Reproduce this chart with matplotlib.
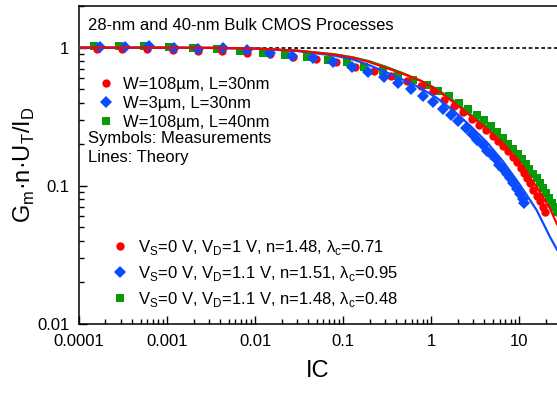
import matplotlib
matplotlib.use("Agg")
import matplotlib.pyplot as plt
from matplotlib.lines import Line2D
from matplotlib.ticker import LogLocator, FuncFormatter, NullFormatter

plt.rcParams['font.family'] = ['Liberation Sans', 'DejaVu Sans']

RED = "#ff0000"
BLUE = "#0a4cff"
GREEN = "#089a08"

ic_red_meas = [1.59e-4, 3.05e-4, 5.97e-4, 1.16e-3, 2.23e-3, 4.25e-3, 8.05e-3, 0.0148,
               0.0268, 0.049, 0.0826, 0.137, 0.225, 0.348, 0.53, 0.764, 1.06, 1.41,
               1.82, 2.31, 2.90, 3.54, 4.22, 5.02, 5.82, 6.64, 7.56, 8.5, 9.4, 10.4,
               11.4, 12.4, 13.3, 14.5, 15.9, 17.3, 18.6, 19.7]
g_red_meas = [0.978, 0.978, 0.978, 0.962, 0.951, 0.940, 0.920, 0.901,
              0.861, 0.823, 0.783, 0.729, 0.674, 0.625, 0.578, 0.529, 0.486, 0.419,
              0.375, 0.340, 0.306, 0.277, 0.252, 0.228, 0.210, 0.193, 0.178, 0.162,
              0.148, 0.135, 0.123, 0.113, 0.104, 0.094, 0.085, 0.077, 0.070, 0.065]

ic_blue_meas = [1.73e-4, 3.34e-4, 6.24e-4, 1.21e-3, 2.27e-3, 4.30e-3, 8.05e-3, 0.0148,
                0.0261, 0.0459, 0.0776, 0.126, 0.191, 0.292, 0.425, 0.592, 0.805, 1.06,
                1.36, 1.67, 2.04, 2.50, 2.90, 3.36, 3.87, 4.37, 4.90, 5.48, 5.98, 6.64,
                7.25, 7.91, 8.62, 9.42, 10.3, 11.0, 11.4]
g_blue_meas = [1.005, 1.005, 1.02, 0.995, 0.979, 0.988, 0.962, 0.916,
               0.875, 0.843, 0.783, 0.729, 0.663, 0.610, 0.553, 0.503, 0.450, 0.403,
               0.361, 0.323, 0.292, 0.261, 0.238, 0.216, 0.196, 0.180, 0.166, 0.155,
               0.142, 0.133, 0.122, 0.113, 0.104, 0.0955, 0.0878, 0.0809, 0.0751]

ic_green_meas = [1.48e-4, 2.87e-4, 5.48e-4, 1.05e-3, 1.99e-3, 3.67e-3, 6.76e-3, 0.0122,
                 0.0219, 0.0393, 0.0681, 0.110, 0.173, 0.287, 0.425, 0.619, 0.893, 1.21,
                 1.61, 2.10, 2.66, 3.30, 4.00, 4.77, 5.58, 6.53, 7.56, 8.61, 9.66, 10.7,
                 11.9, 13.1, 14.5, 15.9, 17.3, 18.6, 20.3, 22.1, 23.5, 25.2, 27.0]
g_green_meas = [1.022, 1.022, 1.022, 1.005, 0.995, 0.979, 0.940, 0.910,
                0.886, 0.851, 0.815, 0.783, 0.721, 0.674, 0.628, 0.585, 0.532, 0.484,
                0.443, 0.396, 0.361, 0.327, 0.297, 0.269, 0.245, 0.223, 0.202, 0.186,
                0.171, 0.157, 0.145, 0.133, 0.122, 0.114, 0.105, 0.0964, 0.0887, 0.0817,
                0.0751, 0.0703, 0.0647]

# theory curves
ic_theory = [1e-4, 1e-3, 3e-3, 0.01, 0.03, 0.08, 0.13, 0.2, 0.31, 0.48, 0.75, 1.16,
             1.79, 2.77, 4.3, 6.64, 10.3, 15.9, 22.5, 27]
g_red_theory = [1.0, 0.999, 0.996, 0.985, 0.95, 0.89, 0.845, 0.785, 0.713, 0.646, 0.578,
                0.495, 0.403, 0.323, 0.259, 0.201, 0.144, 0.098, 0.0684, 0.0527]
g_blue_theory = [1.0, 0.999, 0.995, 0.983, 0.945, 0.875, 0.82, 0.745, 0.663, 0.585,
                 0.512, 0.433, 0.351, 0.273, 0.207, 0.149, 0.101, 0.0665, 0.0426, 0.0345]
g_green_theory = [1.0, 0.999, 0.996, 0.986, 0.952, 0.895, 0.85, 0.796, 0.725, 0.652,
                  0.58, 0.503, 0.415, 0.332, 0.27, 0.213, 0.157, 0.110, 0.0748, 0.0612]

fig = plt.figure(figsize=(5.57, 3.94), dpi=100)
ax = fig.add_axes([79 / 557, 1 - 324 / 394, 478 / 557, 318 / 394])

ax.axhline(1.0, color="black", lw=1.2, ls=(0, (2.2, 1.6)), zorder=1)

ax.plot(ic_green_meas, g_green_meas, ls="none", marker="s", ms=5.3, color=GREEN, mew=0, zorder=3)
ax.plot(ic_red_meas, g_red_meas, ls="none", marker="o", ms=6.0, color=RED, mew=0, zorder=3)
ax.plot(ic_blue_meas, g_blue_meas, ls="none", marker="D", ms=5.8, color=BLUE, mew=0, zorder=3)

ax.plot(ic_theory, g_green_theory, color=GREEN, lw=1.6, zorder=4)
ax.plot(ic_theory, g_blue_theory, color=BLUE, lw=1.6, zorder=4)
ax.plot(ic_theory, g_red_theory, color=RED, lw=1.6, zorder=4)

ax.set_xscale("log")
ax.set_yscale("log")
ax.set_xlim(1e-4, 27)
ax.set_ylim(0.01, 2.0)

fmt = FuncFormatter(lambda v, p: "{:g}".format(v))
ax.xaxis.set_major_locator(LogLocator(base=10, numticks=12))
ax.yaxis.set_major_locator(LogLocator(base=10, numticks=12))
ax.xaxis.set_major_formatter(fmt)
ax.yaxis.set_major_formatter(fmt)
ax.xaxis.set_minor_formatter(NullFormatter())
ax.yaxis.set_minor_formatter(NullFormatter())
ax.tick_params(which="both", direction="in", top=False, right=False, width=1.0, labelsize=12)
ax.tick_params(which="major", length=5.8)
ax.tick_params(which="minor", length=3.6)
ax.tick_params(axis="x", pad=7)
ax.tick_params(axis="y", pad=7)

for side in ["left", "bottom", "top"]:
    ax.spines[side].set_linewidth(1.1)
ax.spines["right"].set_visible(False)

ax.set_xlabel("IC", fontsize=17)
ax.xaxis.set_label_coords(0.5, -0.148)
ax.xaxis.label.set_va("center")
ax.set_ylabel(r"G$_\mathregular{m}$·n·U$_\mathregular{T}$/I$_\mathregular{D}$", fontsize=17)
ax.yaxis.set_label_coords(-0.115, 0.5)
ax.yaxis.label.set_va("center")

ax.text(0.0195, 0.9245, "28-nm and 40-nm Bulk CMOS Processes", transform=ax.transAxes,
        fontsize=12, va="baseline")

h1 = [Line2D([], [], ls="none", marker="o", ms=6.0, color=RED, mew=0),
      Line2D([], [], ls="none", marker="D", ms=5.8, color=BLUE, mew=0),
      Line2D([], [], ls="none", marker="s", ms=5.3, color=GREEN, mew=0)]
leg1 = ax.legend(h1, ["W=108µm, L=30nm", "W=3µm, L=30nm", "W=108µm, L=40nm"],
                 loc="upper left", bbox_to_anchor=(0.039, 0.778), frameon=False,
                 fontsize=12, handlelength=1.0, handletextpad=0.52, labelspacing=0.25,
                 borderpad=0, borderaxespad=0)
ax.add_artist(leg1)

ax.text(0.0188, 0.568, "Symbols: Measurements", transform=ax.transAxes, fontsize=12, va="baseline")
ax.text(0.0188, 0.5106, "Lines: Theory", transform=ax.transAxes, fontsize=12, va="baseline")

labels2 = [r"V$_\mathregular{S}$=0 V, V$_\mathregular{D}$=1 V, n=1.48, λ$_\mathregular{c}$=0.71",
           r"V$_\mathregular{S}$=0 V, V$_\mathregular{D}$=1.1 V, n=1.51, λ$_\mathregular{c}$=0.95",
           r"V$_\mathregular{S}$=0 V, V$_\mathregular{D}$=1.1 V, n=1.48, λ$_\mathregular{c}$=0.48"]
ax.legend(h1, labels2, loc="upper left", bbox_to_anchor=(0.068, 0.271), frameon=False,
          fontsize=12, handlelength=1.0, handletextpad=0.6, labelspacing=0.43,
          borderpad=0, borderaxespad=0)

fig.savefig("out.png", dpi=100)
